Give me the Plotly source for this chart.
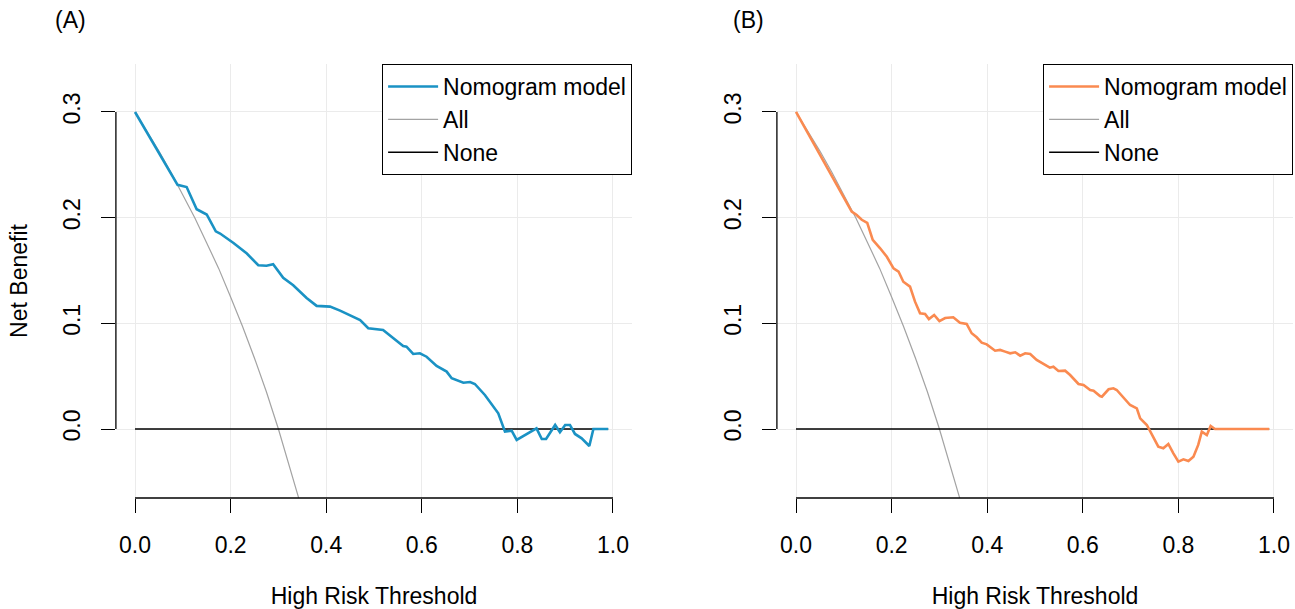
import plotly.graph_objects as go

# ---------------- data ----------------
all_x = [0, 0.025, 0.05, 0.075, 0.1, 0.125, 0.15, 0.175, 0.2, 0.225, 0.25, 0.275, 0.3, 0.325, 0.35]
all_y = [0.300, 0.282, 0.263, 0.243, 0.222, 0.200, 0.176, 0.152, 0.125, 0.097, 0.067, 0.035, 0.000, -0.037, -0.077]

none_x = [0, 0.99]
none_y = [0, 0]

a_x = [0, 0.089, 0.108, 0.129, 0.150, 0.169, 0.178, 0.206, 0.234, 0.258, 0.275, 0.289, 0.310, 0.331,
       0.359, 0.380, 0.408, 0.429, 0.471, 0.488, 0.519, 0.561, 0.568, 0.582, 0.596, 0.610, 0.631,
       0.652, 0.6625, 0.687, 0.701, 0.711, 0.732, 0.760, 0.774, 0.788, 0.7985, 0.816, 0.840, 0.851,
       0.860, 0.879, 0.889, 0.900, 0.910, 0.9205, 0.9345, 0.9505, 0.959, 0.99]
a_y = [0.300, 0.231, 0.229, 0.208, 0.203, 0.187, 0.185, 0.176, 0.166, 0.155, 0.1545, 0.156, 0.143, 0.136,
       0.124, 0.1165, 0.1158, 0.112, 0.103, 0.0953, 0.0937, 0.0785, 0.0779, 0.071, 0.0716, 0.0684, 0.0596,
       0.0543, 0.048, 0.0438, 0.0445, 0.0426, 0.0322, 0.0149, -0.0025, -0.0016, -0.0104, -0.0057, 0.0006, -0.0095,
       -0.0095, 0.0038, -0.0031, 0.0038, 0.0038, -0.0047, -0.0088, -0.0161, 0.0, 0.0]

b_x = [0, 0.1165, 0.127, 0.1375, 0.149, 0.1605, 0.176, 0.190, 0.204, 0.2145, 0.2245, 0.2385, 0.249,
       0.2595, 0.270, 0.278, 0.289, 0.300, 0.312, 0.329, 0.343, 0.357, 0.3675, 0.378, 0.3885, 0.399,
       0.4165, 0.427, 0.4375, 0.448, 0.4585, 0.469, 0.4795, 0.490, 0.5035, 0.521, 0.531, 0.5385, 0.549,
       0.563, 0.5735, 0.591, 0.6015, 0.6155, 0.6225, 0.636, 0.640, 0.654, 0.664, 0.671, 0.685, 0.699,
       0.713, 0.720, 0.734, 0.745, 0.758, 0.7685, 0.779, 0.7895, 0.800, 0.8105, 0.821, 0.8315, 0.8415,
       0.849, 0.8595, 0.8675, 0.8765, 0.99]
b_y = [0.300, 0.2057, 0.2025, 0.198, 0.195, 0.179, 0.171, 0.163, 0.152, 0.149, 0.1394, 0.1347, 0.1205,
       0.1095, 0.1088, 0.104, 0.1079, 0.102, 0.105, 0.1057, 0.1006, 0.0994, 0.0906, 0.0868, 0.0817, 0.0801,
       0.0741, 0.0748, 0.0732, 0.0716, 0.0726, 0.0694, 0.0716, 0.071, 0.0653, 0.0606, 0.058, 0.059, 0.0549,
       0.0552, 0.0511, 0.0426, 0.0416, 0.0369, 0.0362, 0.0312, 0.0306, 0.0376, 0.0385, 0.0369, 0.030, 0.0227,
       0.0195, 0.0101, 0.0038, -0.0057, -0.0167, -0.0183, -0.0142, -0.023, -0.0309, -0.0287, -0.0303, -0.0262, -0.0151,
       -0.0025, -0.0057, 0.0028, 0.0, 0.0]

x_ticks = [0, 0.2, 0.4, 0.6, 0.8, 1.0]
x_ticklabels = ["0.0", "0.2", "0.4", "0.6", "0.8", "1.0"]
y_ticks = [0, 0.1, 0.2, 0.3]
y_ticklabels = ["0.0", "0.1", "0.2", "0.3"]

panel_titles = ["(A)", "(B)"]
model_colors = ["#1A92C4", "#FA8A50"]
model_name = "Nomogram model"

FONT = "Liberation Sans, Arial, sans-serif"
FS = 23
W, H = 1295, 609

fig = go.Figure()

panels = [(a_x, a_y, "x", "y", "legend"), (b_x, b_y, "x2", "y2", "legend2")]
for i, (mx, my, xa, ya, lg) in enumerate(panels):
    fig.add_trace(go.Scatter(x=all_x, y=all_y, mode="lines", name="All",
                             line=dict(color="#A3A3A3", width=1.2), xaxis=xa, yaxis=ya,
                             legend=lg, legendrank=2))
    fig.add_trace(go.Scatter(x=none_x, y=none_y, mode="lines", name="None",
                             line=dict(color="#000000", width=1.3), xaxis=xa, yaxis=ya,
                             legend=lg, legendrank=3))
    fig.add_trace(go.Scatter(x=mx, y=my, mode="lines", name=model_name,
                             line=dict(color=model_colors[i], width=2.6), xaxis=xa, yaxis=ya,
                             legend=lg, legendrank=1))

# plot regions in pixels
xdomA = [115.9 / W, 632.1 / W]
xdomB = [776.9 / W, 1293.1 / W]
ydom = [(H - 498) / H, (H - 64) / H]

xr = [-0.04, 1.04]
yr = [-0.0653, 0.3454]

common_x = dict(range=xr, tickvals=x_ticks, ticktext=x_ticklabels, showgrid=True,
                gridcolor="#EBEBEB", gridwidth=1, zeroline=False, showline=False,
                ticks="outside", ticklen=14, tickwidth=1.3, tickcolor="#000",
                tickfont=dict(family=FONT, size=FS, color="#000"), ticklabelstandoff=12,
                title=dict(text="High Risk Threshold", font=dict(family=FONT, size=FS, color="#000"),
                           standoff=32))
common_y = dict(range=yr, tickvals=y_ticks, ticktext=y_ticklabels, showgrid=True,
                gridcolor="#EBEBEB", gridwidth=1, zeroline=False, showline=False,
                ticks="outside", ticklen=14, tickwidth=1.3, tickcolor="#000", tickangle=-90,
                tickfont=dict(family=FONT, size=FS, color="#000"), ticklabelstandoff=12)

leg_common = dict(xanchor="right", yanchor="top", bgcolor="white", bordercolor="#000", borderwidth=1,
                  font=dict(family=FONT, size=FS, color="#000"), traceorder="normal",
                  tracegroupgap=0, itemwidth=50)

fig.update_layout(
    width=W, height=H, margin=dict(l=0, r=0, t=0, b=0),
    plot_bgcolor="white", paper_bgcolor="white",
    font=dict(family=FONT, size=FS, color="#000"),
    xaxis=dict(domain=xdomA, anchor="y", **common_x),
    yaxis=dict(domain=ydom, anchor="x",
               title=dict(text="Net Benefit", font=dict(family=FONT, size=FS, color="#000"), standoff=24),
               **common_y),
    xaxis2=dict(domain=xdomB, anchor="y2", **common_x),
    yaxis2=dict(domain=ydom, anchor="x2", **common_y),
    legend=dict(x=xdomA[1], y=ydom[1], **leg_common),
    legend2=dict(x=xdomB[1], y=ydom[1], **leg_common),
    showlegend=True,
)

# R-style axis lines spanning first to last tick
for xa, ya in [("x", "y"), ("x2", "y2")]:
    fig.add_shape(type="line", xref=xa, yref=ya + " domain", x0=x_ticks[0], x1=x_ticks[-1], y0=0, y1=0,
                  line=dict(color="#000", width=1.3), layer="above")
    fig.add_shape(type="line", xref=xa + " domain", yref=ya, x0=0, x1=0, y0=y_ticks[0], y1=y_ticks[-1],
                  line=dict(color="#000", width=1.3), layer="above")

for txt, px in zip(panel_titles, [70, 748]):
    fig.add_annotation(text=txt, xref="paper", yref="paper", x=px / W, y=(H - 20) / H,
                       xanchor="center", yanchor="middle", showarrow=False,
                       font=dict(family=FONT, size=FS, color="#000"))

fig.write_html("out.html", config={"displayModeBar": False},
               post_script="document.body.style.margin='0';")
